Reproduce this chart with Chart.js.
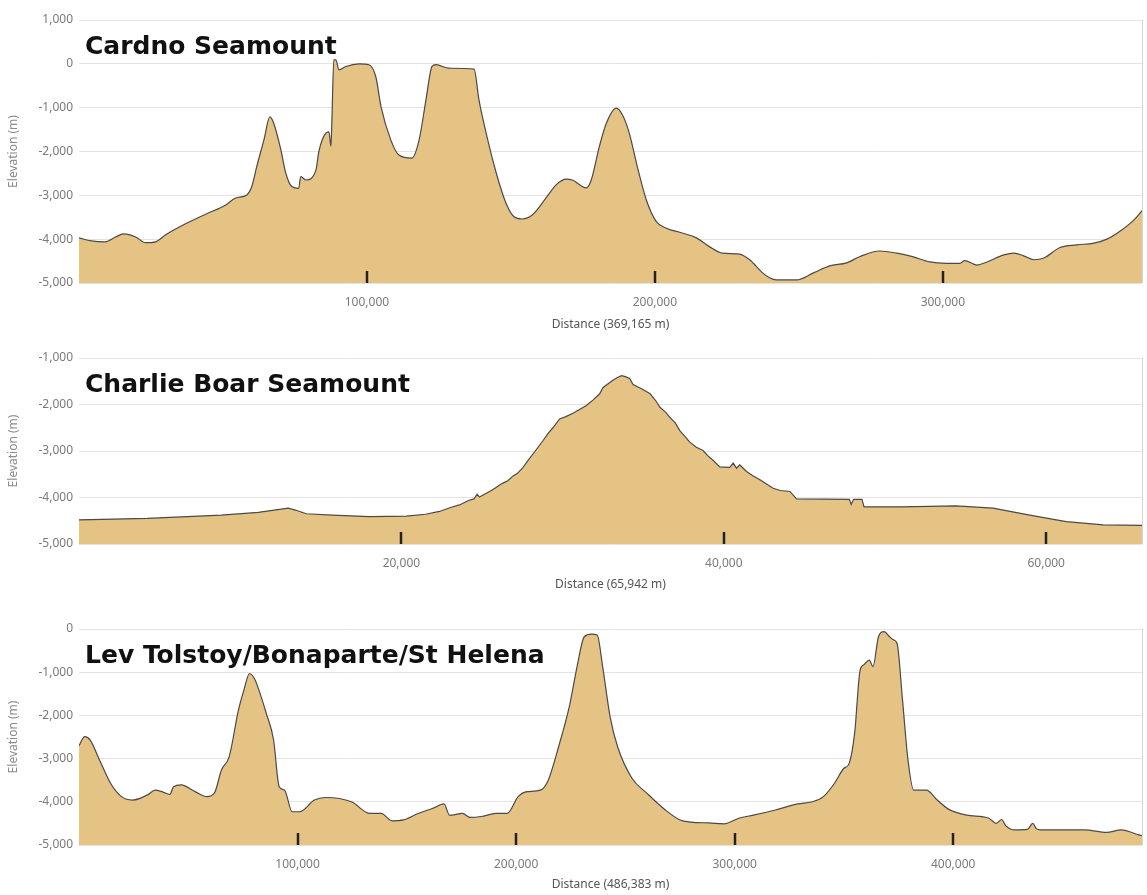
<!DOCTYPE html>
<html>
<head>
<meta charset="utf-8">
<script src="https://cdn.jsdelivr.net/npm/chart.js@4.4.0/dist/chart.umd.min.js"></script>
<style>
  body { margin: 0; background: #fff; overflow: hidden; }
  .caixa { position: absolute; left: 0; width: 1147px; }
</style>
</head>
<body>
<div class="caixa" style="top:0;height:340px"><canvas id="g1"></canvas></div>
<div class="caixa" style="top:340px;height:260px"><canvas id="g2"></canvas></div>
<div class="caixa" style="top:600px;height:295px"><canvas id="g3"></canvas></div>
<script>
// perfil 1 - Cardno Seamount (distancia em m, elevacao em m)
const cardnoTitulo = 'Cardno Seamount';
const cardnoTotal = 369165;
const cardnoDist = [0, 4300, 9200, 12700, 15500, 19700, 23100, 26600, 30100, 37000, 44000, 51000, 54400, 58300, 60000, 61700, 64200, 66300, 67600, 70100, 71800, 73900, 76300, 77000, 78800, 82300, 83300, 85700, 86800, 87500, 87800, 88500, 89200, 90300, 92700, 97200, 100700, 103100, 104900, 108300, 111100, 115600, 118100, 120500, 122600, 124000, 128500, 137200, 138900, 141400, 144900, 148300, 151100, 153900, 157400, 162200, 165700, 169200, 171300, 176200, 177900, 180700, 183100, 186600, 188700, 191100, 193900, 197000, 200500, 204000, 209500, 214400, 218900, 223500, 229400, 232900, 237400, 239800, 242200, 249200, 255100, 260700, 266600, 271100, 278100, 284000, 289500, 295500, 301400, 305900, 307600, 311800, 315300, 321200, 324700, 328100, 331600, 335100, 340700, 346600, 352500, 357000, 361500, 366400, 369165];
const cardnoElev = [-3970, -4040, -4060, -3950, -3880, -3950, -4080, -4060, -3900, -3650, -3430, -3220, -3060, -2990, -2800, -2350, -1740, -1210, -1350, -1960, -2490, -2800, -2840, -2570, -2650, -2420, -2000, -1580, -1550, -1880, -1360, 90, 90, -140, -60, 0, -20, -300, -980, -1740, -2080, -2150, -1740, -820, -60, -20, -100, -120, -820, -1580, -2490, -3180, -3490, -3540, -3450, -3060, -2760, -2630, -2650, -2830, -2650, -1890, -1360, -1010, -1160, -1580, -2350, -3100, -3600, -3750, -3860, -3970, -4170, -4320, -4340, -4470, -4770, -4880, -4930, -4930, -4770, -4610, -4540, -4400, -4270, -4320, -4400, -4520, -4550, -4550, -4490, -4590, -4520, -4360, -4320, -4380, -4470, -4430, -4190, -4130, -4090, -4000, -3820, -3560, -3350];
const cardnoXTicks = [100000, 200000, 300000];
const cardnoYTicks = [1000, 0, -1000, -2000, -3000, -4000, -5000];

// perfil 2 - Charlie Boar Seamount
const charlieTitulo = 'Charlie Boar Seamount';
const charlieTotal = 65942;
const charlieDist = [0, 4230, 8820, 11120, 12980, 13420, 14100, 15720, 18010, 20310, 21490, 22360, 23000, 23600, 24200, 24500, 24700, 24840, 25470, 25800, 26090, 26300, 26600, 26910, 27200, 27530, 27800, 28150, 28450, 28780, 29100, 29400, 29810, 30200, 30640, 31000, 31470, 31900, 32300, 32500, 32800, 33120, 33400, 33650, 33900, 34160, 34370, 34900, 35430, 35800, 36040, 36400, 36640, 37000, 37270, 37600, 37890, 38300, 38710, 39000, 39330, 39750, 40370, 40580, 40790, 40990, 41410, 41800, 42240, 42600, 43060, 43500, 44100, 44510, 47790, 47900, 48050, 48570, 48700, 51000, 54410, 56700, 58980, 61240, 63540, 65840, 65942];
const charlieElev = [-4480, -4450, -4380, -4320, -4230, -4270, -4350, -4380, -4410, -4400, -4360, -4300, -4220, -4160, -4060, -4030, -3930, -3990, -3870, -3800, -3730, -3690, -3640, -3540, -3480, -3360, -3230, -3070, -2930, -2780, -2620, -2500, -2310, -2260, -2190, -2120, -2020, -1900, -1770, -1640, -1560, -1480, -1420, -1380, -1400, -1440, -1570, -1660, -1770, -1930, -2060, -2170, -2270, -2400, -2560, -2690, -2810, -2920, -2990, -3100, -3200, -3340, -3350, -3260, -3370, -3300, -3440, -3530, -3620, -3700, -3800, -3850, -3870, -4030, -4040, -4150, -4040, -4040, -4200, -4200, -4180, -4230, -4380, -4520, -4590, -4600, -4600];
const charlieXTicks = [20000, 40000, 60000];
const charlieYTicks = [-1000, -2000, -3000, -4000, -5000];

// perfil 3 - Lev Tolstoy/Bonaparte/St Helena
const levTitulo = 'Lev Tolstoy/Bonaparte/St Helena';
const levTotal = 486383;
const levDist = [0, 2600, 5130, 9380, 14420, 19450, 24500, 31350, 34800, 38220, 41600, 43250, 46690, 53330, 58530, 61930, 65230, 68700, 72950, 75480, 78040, 80600, 82290, 85680, 89030, 91590, 94060, 97530, 100920, 107700, 112800, 124680, 133130, 138220, 143300, 148380, 155160, 161940, 167020, 169580, 175530, 178900, 184000, 190770, 195850, 200930, 204360, 211090, 214440, 219470, 224500, 227900, 231200, 234600, 237100, 239600, 243000, 246400, 253100, 259800, 268300, 275000, 280000, 288400, 295200, 301900, 308600, 318700, 328900, 335500, 340600, 345700, 349900, 352400, 354900, 357400, 359100, 361600, 363300, 365800, 368400, 370900, 372600, 374300, 376800, 379300, 381900, 387700, 392700, 397800, 406200, 416300, 419700, 422200, 424000, 428100, 434000, 436400, 438000, 439900, 444900, 460100, 470200, 476900, 485300, 486383];
const levElev = [-2700, -2490, -2570, -3030, -3570, -3880, -3960, -3840, -3730, -3770, -3830, -3650, -3610, -3770, -3880, -3800, -3260, -2960, -1880, -1410, -1030, -1180, -1410, -1950, -2570, -3650, -3730, -4230, -4230, -3960, -3900, -4000, -4270, -4270, -4440, -4420, -4270, -4150, -4050, -4310, -4270, -4360, -4340, -4270, -4270, -3880, -3770, -3730, -3530, -2720, -1760, -870, -180, -120, -140, -870, -2030, -2720, -3460, -3800, -4190, -4420, -4470, -4490, -4510, -4380, -4310, -4190, -4050, -4000, -3880, -3570, -3230, -3110, -2410, -950, -830, -720, -870, -180, -60, -180, -250, -330, -1640, -3030, -3730, -3730, -3960, -4170, -4310, -4380, -4500, -4410, -4550, -4650, -4640, -4500, -4620, -4650, -4650, -4650, -4710, -4650, -4770, -4780];
const levXTicks = [100000, 200000, 300000, 400000];
const levYTicks = [0, -1000, -2000, -3000, -4000, -5000];

const fmt = v => Number(v).toLocaleString('en-US');
const fonte = '"Noto Sans", "Open Sans", sans-serif';

// titulo dentro do grafico, marcas do eixo x e borda da direita
const extras = {
  id: 'extras',
  afterDraw(chart, args, o) {
    const {ctx, chartArea: a, scales: {x}} = chart;
    ctx.save();
    ctx.strokeStyle = '#d6d6d6';
    ctx.lineWidth = 1;
    ctx.beginPath();
    ctx.moveTo(Math.round(a.right) + 0.5, a.top);
    ctx.lineTo(Math.round(a.right) + 0.5, a.bottom);
    ctx.stroke();
    ctx.strokeStyle = '#222';
    ctx.lineWidth = 2.5;
    x.ticks.forEach(t => {
      const px = Math.round(x.getPixelForValue(t.value));
      ctx.beginPath();
      ctx.moveTo(px, a.bottom);
      ctx.lineTo(px, a.bottom - 12);
      ctx.stroke();
    });
    ctx.font = 'bold 25px "DejaVu Sans"';
    ctx.fillStyle = '#111';
    ctx.textBaseline = 'alphabetic';
    ctx.fillText(o.texto, a.left + 6, a.top + 34);
    ctx.restore();
  }
};

function perfil(id, titulo, total, dist, elev, xTicks, yTicks, cfg) {
  const pontos = dist.map((d, i) => ({x: d, y: elev[i]}));
  return new Chart(document.getElementById(id), {
    type: 'line',
    data: {
      datasets: [{
        data: pontos,
        fill: 'start',
        backgroundColor: '#e5c384',
        borderColor: '#4a4a4a',
        borderWidth: 1.2,
        pointRadius: 0,
        tension: cfg.tension,
        cubicInterpolationMode: cfg.monotone ? 'monotone' : 'default'
      }]
    },
    options: {
      responsive: true,
      maintainAspectRatio: false,
      animation: false,
      events: [],
      layout: { padding: { top: cfg.top, right: 5, left: 0, bottom: 0 } },
      plugins: {
        legend: { display: false },
        tooltip: { enabled: false },
        extras: { texto: titulo }
      },
      scales: {
        x: {
          type: 'linear',
          min: 0,
          max: total,
          afterBuildTicks: s => { s.ticks = xTicks.map(v => ({value: v})); },
          afterFit: s => { s.height = cfg.xh; },
          grid: { display: false },
          border: { display: false },
          ticks: { callback: v => fmt(v), color: '#7a7a7a', font: { family: fonte, size: 12 }, padding: 4, maxRotation: 0 },
          title: { display: true, text: 'Distance (' + fmt(total) + ' m)', color: '#555', font: { family: fonte, size: 12 }, padding: { top: 0, bottom: cfg.tb } }
        },
        y: {
          min: yTicks[yTicks.length - 1],
          max: yTicks[0],
          z: 1,
          afterBuildTicks: s => { s.ticks = yTicks.map(v => ({value: v})); },
          afterFit: s => { s.width = 79; },
          grid: { color: 'rgba(222,222,222,0.85)', drawTicks: false },
          border: { display: false },
          ticks: { callback: v => fmt(v), color: '#7a7a7a', font: { family: fonte, size: 12 }, padding: 6 },
          title: { display: true, text: 'Elevation (m)', color: '#8a8a8a', font: { family: fonte, size: 12 }, padding: { top: 6, bottom: 0 } }
        }
      }
    },
    plugins: [extras]
  });
}

perfil('g1', cardnoTitulo, cardnoTotal, cardnoDist, cardnoElev, cardnoXTicks, cardnoYTicks, { top: 20, xh: 57, tb: 8, tension: 0.3, monotone: true });
perfil('g2', charlieTitulo, charlieTotal, charlieDist, charlieElev, charlieXTicks, charlieYTicks, { top: 18, xh: 56, tb: 8, tension: 0, monotone: false });
perfil('g3', levTitulo, levTotal, levDist, levElev, levXTicks, levYTicks, { top: 29, xh: 50, tb: 3, tension: 0.3, monotone: true });
</script>
</body>
</html>
